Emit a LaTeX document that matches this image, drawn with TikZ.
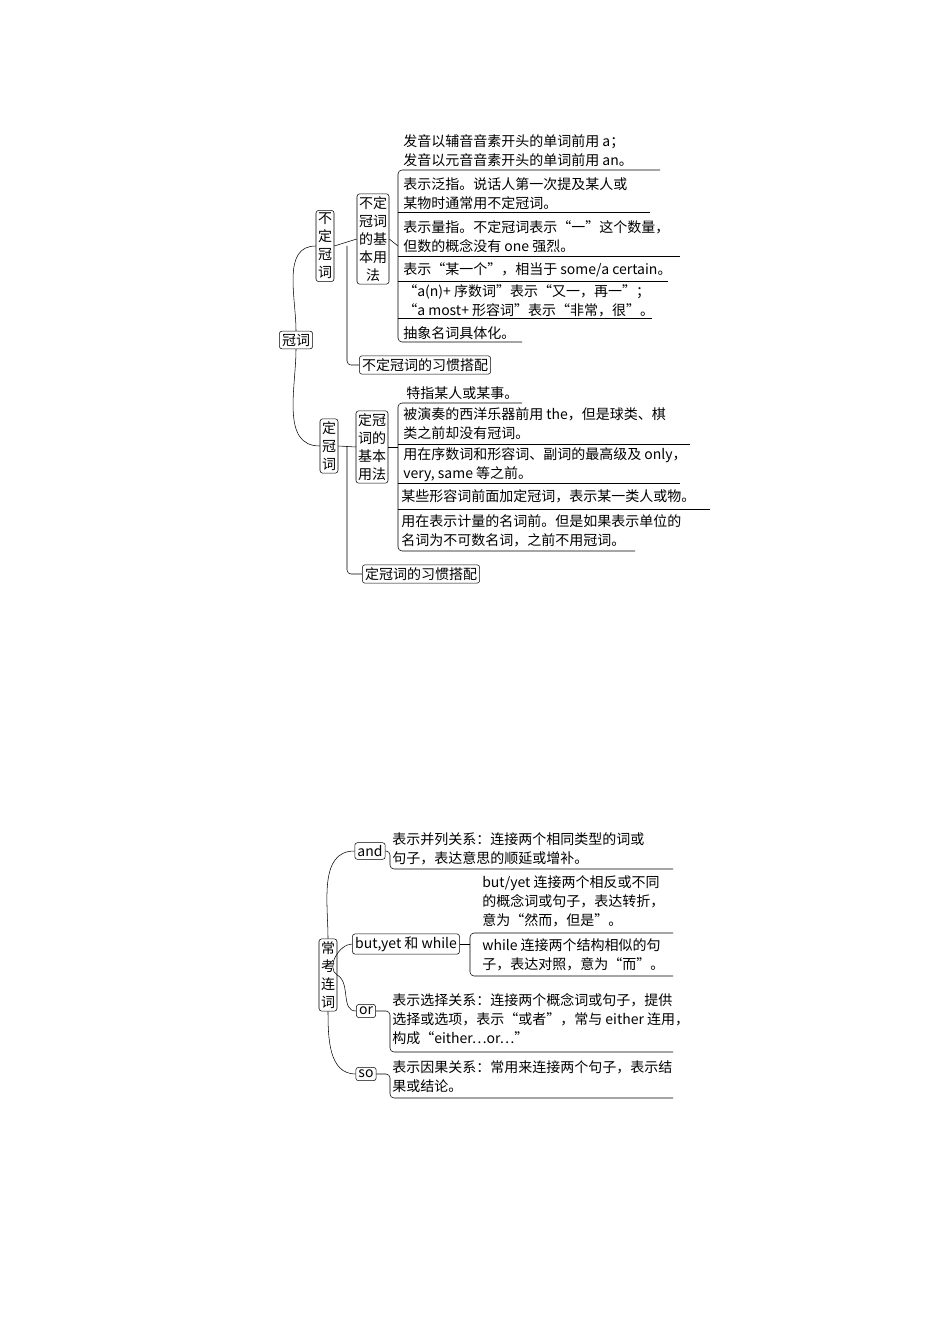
\documentclass[tikz,border=0pt]{standalone}
\usepackage{fontspec}
\setmainfont{Noto Sans CJK SC}
\usetikzlibrary{positioning, calc}

\begin{document}
\begin{tikzpicture}[x=0.75pt, y=-0.75pt,
    font=\fontsize{10.5}{14.25}\selectfont,
    tbox/.style={draw, rounded corners=2pt, inner sep=2pt, thin, align=center},
    vbox/.style={draw, rounded corners=2pt, inner xsep=1.5pt, inner ysep=2pt, thin, align=center, font=\fontsize{10.5}{13.5}\selectfont},
    item/.style={anchor=west, inner sep=0pt, align=left},
    link/.style={thin},
    brace/.style={thin, rounded corners=3pt},
    ]
    \useasboundingbox (0,0) rectangle (950,1344);

    % article part
    \node[tbox](gc) at (296,340){冠词};
    \node[vbox](bd) at (325,246){不\\定\\冠\\词};
    \node[vbox](dd) at (329,446){定\\冠\\词};
    \node[vbox](bdyf) at (373,239){不定\\冠词\\的基\\本用\\法};
    \node[tbox](bdxg) at (425,365){不定冠词的习惯搭配};
    \node[vbox](ddyf) at (372,447){定冠\\词的\\基本\\用法};
    \node[tbox](ddxg) at (421,574){定冠词的习惯搭配};

    \draw[link](gc.north) to[out=90, in=180] (bd.west);
    \draw[link](gc.south) to[out=-90, in=180] (dd.west);
    \draw[link](bd.east) -- (bdyf.west);
    \draw[brace](bd.east -| 347,0) |- (bdxg.west);
    \draw[link](dd.east) -- (ddyf.west);
    \draw[brace](dd.east -| 347,0) |- (ddxg.west);

    \node[item](b1) at (403,151){发音以辅音音素开头的单词前用 a；\\发音以元音音素开头的单词前用 an。};
    \node[item](b2) at (403,194){表示泛指。说话人第一次提及某人或\\某物时通常用不定冠词。};
    \node[item](b3) at (403,237){表示量指。不定冠词表示“一”这个数量，\\但数的概念没有 one 强烈。};
    \node[item](b4) at (403,270){表示“某一个”，相当于 some/a certain。};
    \node[item](b5) at (403,301){“a(n)+ 序数词”表示“又一，再一”；\\“a most+ 形容词”表示“非常，很”。};
    \node[item](b6) at (403,333){抽象名词具体化。};

    \draw[link](bdyf.east) -- (398,246);
    \draw[brace](660,170) -- (398,170) -- (398,342) -- (522,342);
    \draw[link](398,212) -- (650,212);
    \draw[link](398,256) -- (680,256);
    \draw[link](398,281) -- (668,281);
    \draw[link](398,318) -- (652,318);

    \node[item](d1) at (406,393){特指某人或某事。};
    \node[item](d2) at (403,424){被演奏的西洋乐器前用 the，但是球类、棋\\类之前却没有冠词。};
    \node[item](d3) at (403,465){用在序数词和形容词、副词的最高级及 only，\\very, same 等之前。};
    \node[item](d4) at (401,496){某些形容词前面加定冠词，表示某一类人或物。};
    \node[item](d5) at (401,531){用在表示计量的名词前。但是如果表示单位的\\名词为不可数名词，之前不用冠词。};

    \draw[link](ddyf.east) -- (398,447);
    \draw[brace](522,403) -- (398,403) -- (398,551) -- (635,551);
    \draw[link](398,444) -- (690,444);
    \draw[link](398,483) -- (680,483);
    \draw[link](398,509) -- (710,509);

    % conjunction part
    \node[vbox](ck) at (328,975){常\\考\\连\\词};
    \node[tbox](cand) at (370,851){and};
    \node[tbox](cbut) at (406,944){but,yet 和 while};
    \node[tbox](cor) at (366,1011){or};
    \node[tbox](cso) at (366,1074){so};

    \draw[link](ck.north) to[out=90, in=180] (cand.west);
    \draw[link](ck.east) to[out=150, in=180] (cbut.west);
    \draw[link](ck.east) to[out=-30, in=180] (cor.west);
    \draw[link](ck.south) to[out=-90, in=180] (cso.west);

    \node[item](a1) at (392,849){表示并列关系：连接两个相同类型的词或\\句子，表达意思的顺延或增补。};
    \node[item](t1) at (482,901){but/yet 连接两个相反或不同\\的概念词或句子，表达转折，\\意为“然而，但是”。};
    \node[item](t2) at (482,955){while 连接两个结构相似的句\\子，表达对照，意为“而”。};
    \node[item](o1) at (392,1019){表示选择关系：连接两个概念词或句子，提供\\选择或选项，表示“或者”，常与 either 连用，\\构成“either…or…”};
    \node[item](s1) at (392,1077){表示因果关系：常用来连接两个句子，表示结\\果或结论。};

    \draw[brace](cand.east) -- (390,851) -- (390,869) -- (673,869);
    \draw[link](cbut.east) -- (470,944);
    \draw[brace](673,933) -- (470,933) -- (470,976) -- (673,976);
    \draw[brace](cor.east) -- (390,1011) -- (390,1052) -- (673,1052);
    \draw[brace](cso.east) -- (390,1074) -- (390,1098) -- (673,1098);
\end{tikzpicture}
\end{document}
